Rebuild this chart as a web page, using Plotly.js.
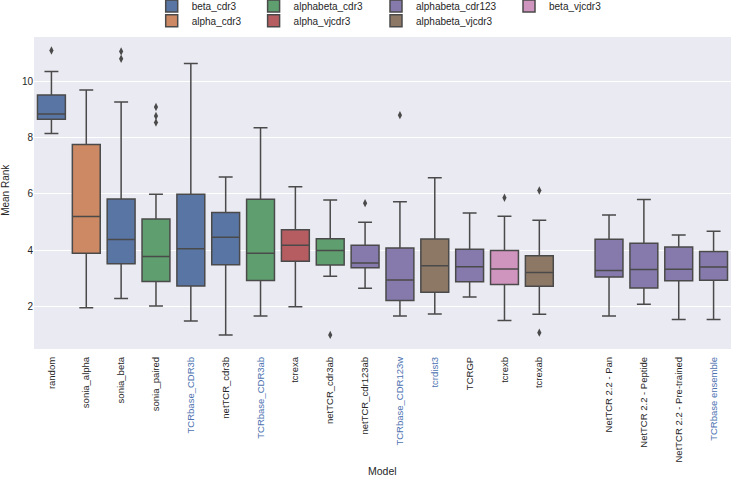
<!DOCTYPE html>
<html>
<head>
<meta charset="utf-8">
<script src="https://cdn.plot.ly/plotly-3.0.1.min.js"></script>
<style>
  html, body { margin: 0; padding: 0; background: white; }
  #chart { width: 733px; height: 477px; }
</style>
</head>
<body>
<div id="chart"></div>
<script>
// Models in x order (slot 15 is left empty as a gap)
let models = ["random", "sonia_alpha", "sonia_beta", "sonia_paired", "TCRbase_CDR3b",
  "netTCR_cdr3b", "TCRbase_CDR3ab", "tcrexa", "netTCR_cdr3ab", "netTCR_cdr123ab",
  "TCRbase_CDR123w", "tcrdist3", "TCRGP", "tcrexb", "tcrexab",
  "NetTCR 2.2 - Pan", "NetTCR 2.2 - Peptide", "NetTCR 2.2 - Pre-trained", "TCRbase ensemble"];
let modelPos = [0, 1, 2, 3, 4, 5, 6, 7, 8, 9, 10, 11, 12, 13, 14, 16, 17, 18, 19];
let modelGroup = ["beta_cdr3", "alpha_cdr3", "beta_cdr3", "alphabeta_cdr3", "beta_cdr3",
  "beta_cdr3", "alphabeta_cdr3", "alpha_vjcdr3", "alphabeta_cdr3", "alphabeta_cdr123",
  "alphabeta_cdr123", "alphabeta_vjcdr3", "alphabeta_cdr123", "beta_vjcdr3", "alphabeta_vjcdr3",
  "alphabeta_cdr123", "alphabeta_cdr123", "alphabeta_cdr123", "alphabeta_cdr123"];
// labels drawn in blue
let blueLabels = ["TCRbase_CDR3b", "TCRbase_CDR3ab", "TCRbase_CDR123w", "tcrdist3", "TCRbase ensemble"];

// box stats per model (mean rank)
let lowWhisker = [8.14, 1.96, 2.29, 2.02, 1.49, 1.00, 1.67, 2.00, 3.08, 2.65, 1.67, 1.74, 2.34, 1.51, 1.73, 1.67, 2.09, 1.55, 1.55];
let q1 = [8.64, 3.89, 3.52, 2.89, 2.73, 3.49, 2.93, 3.61, 3.48, 3.38, 2.22, 2.51, 2.88, 2.79, 2.72, 3.05, 2.66, 2.92, 2.94];
let median = [8.83, 5.20, 4.38, 3.78, 4.05, 4.46, 3.89, 4.18, 3.99, 3.55, 2.95, 3.45, 3.42, 3.34, 3.21, 3.28, 3.32, 3.33, 3.41];
let q3 = [9.50, 7.75, 5.82, 5.11, 5.99, 5.34, 5.81, 4.73, 4.41, 4.18, 4.08, 4.40, 4.04, 3.99, 3.81, 4.39, 4.25, 4.12, 3.96];
let highWhisker = [10.34, 9.68, 9.26, 5.99, 10.62, 6.60, 8.34, 6.25, 5.78, 4.99, 5.72, 6.57, 5.32, 5.21, 5.06, 5.25, 5.80, 4.54, 4.67];

// outliers
let outlierModel = ["random", "sonia_beta", "sonia_beta", "sonia_paired", "sonia_paired", "sonia_paired",
  "netTCR_cdr3ab", "netTCR_cdr123ab", "TCRbase_CDR123w", "tcrexb", "tcrexab", "tcrexab"];
let outlierValue = [11.08, 11.05, 10.79, 9.08, 8.76, 8.53, 1.00, 5.67, 8.79, 5.86, 6.12, 1.08];

// hue groups and colours
let groups = ["beta_cdr3", "alpha_cdr3", "alphabeta_cdr3", "alpha_vjcdr3", "alphabeta_cdr123", "alphabeta_vjcdr3", "beta_vjcdr3"];
let groupColors = ["#5975a4", "#cc8963", "#5f9e6e", "#b55d60", "#857aab", "#8d7866", "#d095bf"];

let lineColor = "#4a4a4a";
let textColor = "#262626";
let fontFam = "Liberation Sans, Arial, sans-serif";

let data = [];
let layout = {
  width: 733,
  height: 477,
  margin: {l: 34, r: 2, t: 37, b: 128, autoexpand: false},
  paper_bgcolor: "white",
  plot_bgcolor: "#eaeaf2",
  font: {family: fontFam, color: textColor, size: 10},
  boxmode: "overlay",
  xaxis: {
    range: [-0.5, 19.5],
    tickvals: modelPos,
    ticktext: models.map(m => blueLabels.includes(m) ? '<span style="color:#4c72b0">' + m + '</span>' : m),
    tickangle: -90,
    tickfont: {size: 9.5, color: textColor},
    ticklabelstandoff: 5,
    showgrid: false,
    zeroline: false,
    ticks: "",
    automargin: false
  },
  yaxis: {
    range: [0.5, 11.56],
    tickvals: [2, 4, 6, 8, 10],
    tickfont: {size: 10, color: textColor},
    gridcolor: "white",
    gridwidth: 1,
    zeroline: false,
    ticks: "",
    automargin: false
  },
  // axis titles as annotations so they sit where the reference has them
  annotations: [
    {text: "Model", xref: "paper", yref: "paper", x: 0.5, y: -0.3926,
     xanchor: "center", yanchor: "middle", showarrow: false, font: {size: 10.5, color: textColor}},
    {text: "Mean Rank", xref: "paper", yref: "paper", x: -0.0402, y: 0.51,
     xanchor: "center", yanchor: "middle", textangle: -90, showarrow: false, font: {size: 10, color: textColor}}
  ],
  showlegend: true
};

// one box trace per group, each with its own small legend placed in a 4-column grid
let legendX = [151.7, 253.6, 376, 509];
let legendY = [6, 20.7];
for (let g = 0; g < groups.length; g++) {
  let xs = [], a = [], b = [], c = [], d = [], e = [];
  for (let i = 0; i < models.length; i++) {
    if (modelGroup[i] == groups[g]) {
      xs.push(modelPos[i]);
      a.push(lowWhisker[i]);
      b.push(q1[i]);
      c.push(median[i]);
      d.push(q3[i]);
      e.push(highWhisker[i]);
    }
  }
  let legName = g == 0 ? "legend" : "legend" + (g + 1);
  data.push({
    type: "box",
    name: groups[g],
    x: xs,
    lowerfence: a,
    q1: b,
    median: c,
    q3: d,
    upperfence: e,
    width: 0.8,
    whiskerwidth: 0.5,
    boxpoints: false,
    fillcolor: groupColors[g],
    line: {color: lineColor, width: 1.5},
    legend: legName,
    hoverinfo: "skip"
  });
  layout[legName] = {
    xref: "container",
    yref: "container",
    x: legendX[Math.floor(g / 2)] / 733,
    y: 1 - legendY[g % 2] / 477,
    xanchor: "left",
    yanchor: "middle",
    bgcolor: "rgba(0,0,0,0)",
    font: {size: 10, color: textColor, family: fontFam}
  };
}

// outlier diamonds
let ox = outlierModel.map(m => modelPos[models.indexOf(m)]);
data.push({
  type: "scatter",
  mode: "markers",
  x: ox,
  y: outlierValue,
  marker: {symbol: "diamond-tall", size: 6, color: lineColor},
  showlegend: false,
  hoverinfo: "skip"
});

Plotly.newPlot("chart", data, layout, {staticPlot: true});
</script>
</body>
</html>
